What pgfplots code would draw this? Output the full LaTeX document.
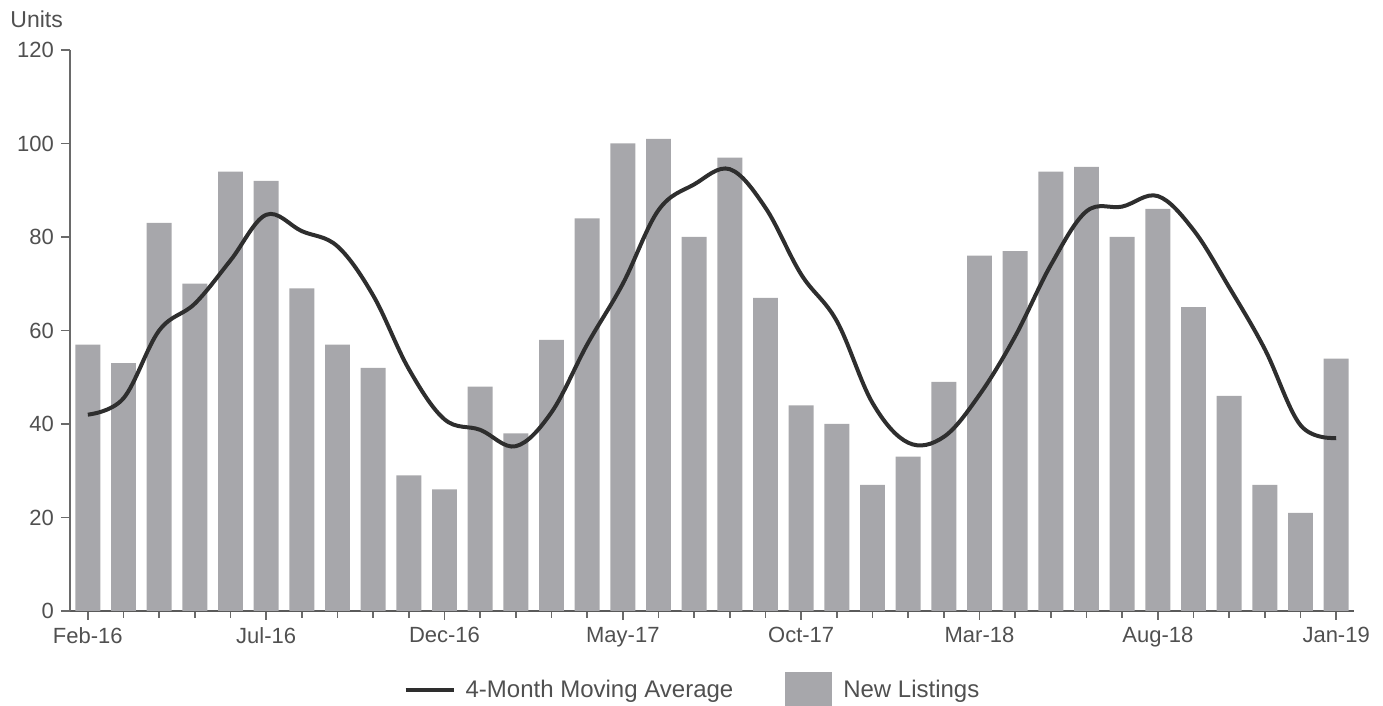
\documentclass[border=0pt]{standalone}
\usepackage{pgfplots}
\pgfplotsset{compat=1.18}
\usepackage{pgfplotstable}
\usepackage{fontspec}
\setmainfont{Liberation Sans}
\definecolor{bargray}{HTML}{A7A7AB}
\definecolor{linegray}{HTML}{2E2E2E}
\definecolor{textgray}{HTML}{505050}
\definecolor{axisgray}{HTML}{6A6A6A}

\pgfplotstableread{
x bars ma
0 57 42
1 53 45.5
2 83 60
3 70 65.75
4 94 75
5 92 84.75
6 69 81.25
7 57 78
8 52 67.5
9 29 51.75
10 26 41
11 48 38.75
12 38 35.25
13 58 42.5
14 84 57
15 100 70
16 101 85.75
17 80 91.25
18 97 94.5
19 67 86.25
20 44 72
21 40 62
22 27 44.5
23 33 36
24 49 37.25
25 76 46.25
26 77 58.75
27 94 74
28 95 85.5
29 80 86.5
30 86 88.75
31 65 81.5
32 46 69.25
33 27 56
34 21 39.75
35 54 37
}\datatable

\begin{document}
\begin{tikzpicture}
\begin{axis}[
  name=ax,
  at={(0,0)}, anchor=south west,
  scale only axis,
  width=642pt, height=280.5pt,
  xmin=-0.5, xmax=35.5,
  ymin=0, ymax=120,
  axis lines=left,
  axis line style={axisgray, line width=1pt, -},
  x axis line style={draw=axisgray!85!black},
  ytick={0,20,...,120},
  xtick={0,5,...,35},
  xticklabels={Feb-16,Jul-16,Dec-16,May-17,Oct-17,Mar-18,Aug-18,Jan-19},
  minor xtick={0,1,...,35},
  tick align=outside,
  tick style={axisgray, line width=0.9pt},
  major tick length=4.5pt,
  minor tick length=3.5pt,
  ticklabel style={font=\fontsize{11}{13}\selectfont, text=textgray},
  /pgf/number format/assume math mode=true,
  legend style={draw=none, fill=none, at={(0.4856,-0.141)}, anchor=center,
    font=\fontsize{12}{14}\selectfont, text=textgray,
    legend columns=2,
    /tikz/every even column/.append style={column sep=24pt}},
  legend cell align=left,
  reverse legend,
  clip=false,
]
\addplot[ybar, bar width=0.7, fill=bargray, draw=none,
  area legend,
  legend image code/.code={\fill[bargray] (0pt,-9pt) rectangle (23.5pt,9pt); \path (27pt,0pt);}]
  table[x=x, y=bars] {\datatable};
\addlegendentry{New Listings}
\addplot[linegray, line width=2pt, smooth, tension=0.6, no marks,
  legend image code/.code={\draw[linegray, line width=2pt] (0pt,0pt) -- (24pt,0pt); \path (27pt,0pt);}]
  table[x=x, y=ma] {\datatable};
\addlegendentry{4-Month Moving Average}
\end{axis}
\node[anchor=west, font=\fontsize{11.5}{13}\selectfont, text=textgray, inner sep=0pt] at (-30pt,296pt) {Units};
\pgfresetboundingbox
\path[use as bounding box] (-35pt,-47.5pt) rectangle (656.5pt,305.5pt);
\end{tikzpicture}
\end{document}
